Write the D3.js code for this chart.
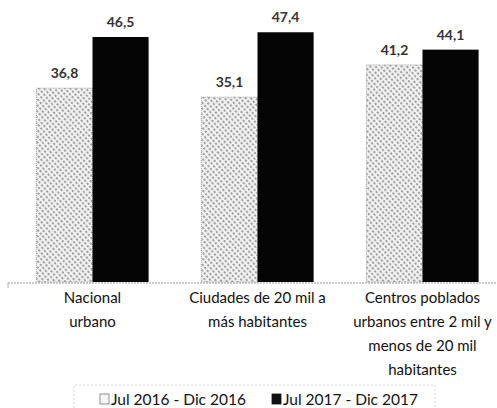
<!DOCTYPE html>
<html>
<head>
<meta charset="utf-8">
<script src="https://cdn.jsdelivr.net/npm/d3@7"></script>
<style>
  body { margin: 0; background: #fff; }
  svg { display: block; font-family: Lato, "Open Sans", sans-serif; }
</style>
</head>
<body>
<div id="chart"></div>
<script>
// datos
var categorias = [
  ["Nacional", "urbano"],
  ["Ciudades de 20 mil a", "más habitantes"],
  ["Centros poblados", "urbanos entre 2 mil y", "menos de 20 mil", "habitantes"]
];
var series = ["Jul 2016 - Dic 2016", "Jul 2017 - Dic 2017"];
var val2016 = [36.8, 35.1, 41.2];
var val2017 = [46.5, 47.4, 44.1];

var w = 497, h = 408;
var base_y = 282;

var svg = d3.select("#chart").append("svg")
  .attr("width", w)
  .attr("height", h);

// patron punteado para la primera serie
var defs = svg.append("defs");
var pat = defs.append("pattern")
  .attr("id", "puntos")
  .attr("patternUnits", "userSpaceOnUse")
  .attr("width", 4)
  .attr("height", 4)
  .attr("patternTransform", "rotate(-40)");
pat.append("rect").attr("width", 4).attr("height", 4).attr("fill", "#f2f2f2");
pat.append("line")
  .attr("x1", 1).attr("y1", 0).attr("x2", 1).attr("y2", 4)
  .attr("stroke", "#6a6a6a")
  .attr("stroke-width", 1.2)
  .attr("stroke-dasharray", "2.2,1.8");

var x0 = d3.scaleBand()
  .domain(d3.range(categorias.length))
  .range([10, 505])
  .paddingInner(0.32)
  .paddingOuter(0.16);

var x1 = d3.scaleBand()
  .domain([0, 1])
  .range([0, x0.bandwidth()]);

var y = d3.scaleLinear()
  .domain([0, 46.5])
  .range([base_y, 37]);

var datos = [];
for (var i = 0; i < categorias.length; i++) {
  datos.push({cat: i, serie: 0, v: val2016[i]});
  datos.push({cat: i, serie: 1, v: val2017[i]});
}

// barras
svg.selectAll("rect.bar")
  .data(datos)
  .enter()
  .append("rect")
  .attr("class", "bar")
  .attr("x", function(d) { return x0(d.cat) + x1(d.serie); })
  .attr("y", function(d) { return y(d.v); })
  .attr("width", x1.bandwidth())
  .attr("height", function(d) { return base_y - y(d.v); })
  .attr("fill", function(d) { return d.serie == 0 ? "url(#puntos)" : "#050505"; })
  .attr("stroke", function(d) { return d.serie == 0 ? "#888" : "none"; })
  .attr("stroke-width", 0.7)
  .attr("stroke-dasharray", "1,1");

// etiquetas de valores
svg.selectAll("text.valor")
  .data(datos)
  .enter()
  .append("text")
  .attr("class", "valor")
  .attr("x", function(d) { return x0(d.cat) + x1(d.serie) + x1.bandwidth() / 2; })
  .attr("y", function(d) { return y(d.v) - 10; })
  .attr("text-anchor", "middle")
  .attr("font-size", 14)
  .attr("font-weight", "bold")
  .attr("fill", "#333")
  .text(function(d) { return d.v.toFixed(1).replace(".", ","); });

// eje
svg.append("line")
  .attr("x1", 8).attr("x2", w)
  .attr("y1", base_y + 1).attr("y2", base_y + 1)
  .attr("stroke", "#999")
  .attr("stroke-width", 1)
  .attr("stroke-dasharray", "2,1");
svg.append("line")
  .attr("x1", 8).attr("x2", 8)
  .attr("y1", base_y + 1).attr("y2", base_y + 6)
  .attr("stroke", "#aaa");

// categorias
var cats = svg.selectAll("text.cat")
  .data(categorias)
  .enter()
  .append("text")
  .attr("class", "cat")
  .attr("text-anchor", "middle")
  .attr("font-size", 15)
  .attr("fill", "#111");
cats.selectAll("tspan")
  .data(function(d, i) { return d.map(function(t) { return {t: t, i: i}; }); })
  .enter()
  .append("tspan")
  .attr("x", function(d) { return x0(d.i) + x0.bandwidth() / 2; })
  .attr("y", function(d, j) { return 303 + j * 24; })
  .text(function(d) { return d.t; });

// leyenda
var leg = svg.append("g");
leg.append("path")
  .attr("d", "M74,408 V385 H435 V408")
  .attr("fill", "none")
  .attr("stroke", "#ccc")
  .attr("stroke-width", 0.8)
  .attr("stroke-dasharray", "2,2");

var leg_x = [100, 272];
series.forEach(function(s, i) {
  leg.append("rect")
    .attr("x", leg_x[i])
    .attr("y", 394)
    .attr("width", 9)
    .attr("height", 10)
    .attr("fill", i == 0 ? "#f6f6f6" : "#111")
    .attr("stroke", i == 0 ? "#777" : "#111")
    .attr("stroke-width", 0.8);
  leg.append("text")
    .attr("x", leg_x[i] + 11)
    .attr("y", 405)
    .attr("font-size", 15.5)
    .attr("fill", "#111")
    .text(s);
});
</script>
</body>
</html>
